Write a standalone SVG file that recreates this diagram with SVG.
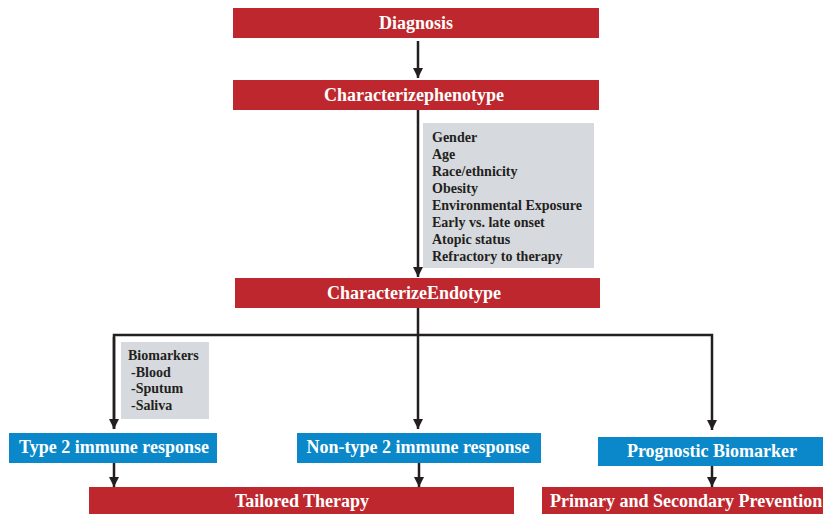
<svg xmlns="http://www.w3.org/2000/svg" width="823" height="514" viewBox="0 0 823 514">
<defs>
<marker id="ah" markerUnits="userSpaceOnUse" markerWidth="10" markerHeight="11" refX="10" refY="5" orient="auto">
<path d="M0,0 L10,5 L0,10 Z" fill="#231F20"/>
</marker>
<style>
.red{fill:#BE272D}
.blue{fill:#0A88C9}
.gray{fill:#D6D9DD}
.t{font-family:"Liberation Serif","Times New Roman",serif;font-weight:bold;font-size:18px;fill:#FFFFFF;text-anchor:middle}
.s{font-family:"Liberation Serif","Times New Roman",serif;font-weight:bold;font-size:14px;fill:#231F20}
.c{stroke:#231F20;stroke-width:2.5;fill:none}
</style>
</defs>
<rect width="823" height="514" fill="#FFFFFF"/>
<g id="connectors">
<line class="c" x1="418" y1="41" x2="418" y2="78" marker-end="url(#ah)"/>
<line class="c" x1="418" y1="110" x2="418" y2="277" marker-end="url(#ah)"/>
<polyline class="c" points="418,308 418,335"/>
<polyline class="c" points="114,429 114,335 712,335 712,430" marker-end="url(#ah)"/>
<line class="c" x1="114" y1="337" x2="114" y2="429" marker-end="url(#ah)"/>
<line class="c" x1="418" y1="335" x2="418" y2="429" marker-end="url(#ah)"/>
<line class="c" x1="114" y1="463" x2="114" y2="487" marker-end="url(#ah)"/>
<line class="c" x1="419" y1="463" x2="419" y2="487" marker-end="url(#ah)"/>
<line class="c" x1="712" y1="466" x2="712" y2="487" marker-end="url(#ah)"/>
</g>
<g id="diagnosis">
<rect class="red" x="233" y="8" width="366" height="30"/>
<text class="t" x="416" y="29">Diagnosis</text>
</g>
<g id="phenotype">
<rect class="red" x="233" y="80" width="366" height="30"/>
<text class="t" x="414" y="101">Characterizephenotype</text>
</g>
<g id="phenotype-factors">
<rect class="gray" x="423" y="123" width="171" height="145"/>
<text class="s" x="432" y="142">Gender</text>
<text class="s" x="432" y="159">Age</text>
<text class="s" x="432" y="176">Race/ethnicity</text>
<text class="s" x="432" y="193">Obesity</text>
<text class="s" x="432" y="210">Environmental Exposure</text>
<text class="s" x="432" y="227">Early vs. late onset</text>
<text class="s" x="432" y="244">Atopic status</text>
<text class="s" x="432" y="261">Refractory to therapy</text>
</g>
<g id="endotype">
<rect class="red" x="235" y="278" width="365" height="30"/>
<text class="t" x="414" y="299">CharacterizeEndotype</text>
</g>
<g id="biomarkers">
<rect class="gray" x="121" y="342" width="88" height="77"/>
<text class="s" x="128" y="360">Biomarkers</text>
<text class="s" x="131" y="376.5">-Blood</text>
<text class="s" x="131" y="393">-Sputum</text>
<text class="s" x="131" y="409.5">-Saliva</text>
</g>
<g id="type2">
<rect class="blue" x="9" y="433" width="208" height="30"/>
<text class="t" x="114" y="453">Type 2 immune response</text>
</g>
<g id="nontype2">
<rect class="blue" x="297" y="433" width="244" height="30"/>
<text class="t" x="418" y="453">Non-type 2 immune response</text>
</g>
<g id="prognostic">
<rect class="blue" x="598" y="437" width="225" height="29"/>
<text class="t" x="712" y="457">Prognostic Biomarker</text>
</g>
<g id="tailored">
<rect class="red" x="89" y="487" width="425" height="27"/>
<text class="t" x="302" y="507">Tailored Therapy</text>
</g>
<g id="prevention">
<rect class="red" x="542" y="487" width="281" height="27"/>
<text class="t" x="550" y="507" style="text-anchor:start">Primary and Secondary Prevention</text>
</g>
</svg>
